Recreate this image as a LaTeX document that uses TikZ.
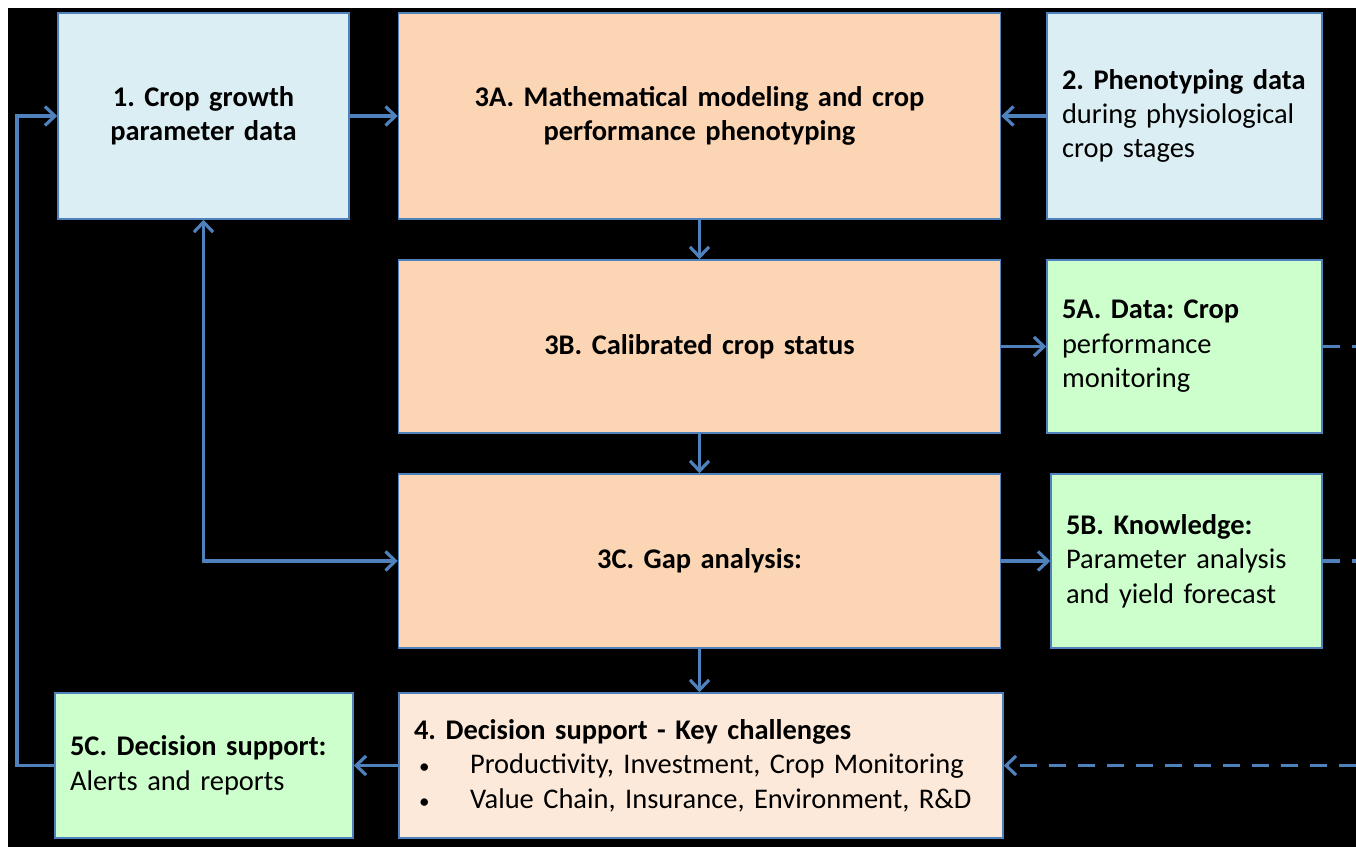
\documentclass[tikz,border=0pt]{standalone}
\usepackage{fontspec}
\setmainfont{Carlito}
\frenchspacing
\usetikzlibrary{arrows.meta, positioning, calc}
\definecolor{lineblue}{RGB}{79,129,189}
\definecolor{skyfill}{RGB}{219,238,244}
\definecolor{peach}{RGB}{252,213,180}
\definecolor{mint}{RGB}{204,255,204}
\definecolor{cream}{RGB}{253,233,217}
\newcommand{\dotitem}{\makebox[1.12cm][l]{\hspace{0.1cm}{\fontsize{12}{12}\selectfont\textbullet}}}
\tikzset{
  box/.style={rectangle, draw=lineblue, line width=0.9pt, inner xsep=0.3cm,
              align=center, text=black, font=\fontsize{16.2}{19.6}\selectfont},
  leftbox/.style={box, align=left},
  arrow/.style={-{Straight Barb[length=0.2cm, width=0.38cm]}, line width=1.8pt, color=lineblue},
  twoway/.style={arrow, {Straight Barb[length=0.2cm, width=0.38cm]}-{Straight Barb[length=0.2cm, width=0.38cm]}},
  dashline/.style={line width=1.8pt, color=lineblue, dash pattern=on 0.34cm off 0.24cm},
  dasharrow/.style={arrow, dash pattern=on 0.34cm off 0.24cm},
}

\begin{document}
\begin{tikzpicture}[x=0.02cm, y=-0.02cm]
        % Frame
        \useasboundingbox (0,0) rectangle (1356,847);
        \fill[white] (0,0) rectangle (1356,847);
        \fill[black] (8,8) rectangle (1356,847);

        % Top row
        \node[box, fill=skyfill, minimum width=5.82cm, minimum height=4.12cm, text width=5.22cm]
              (crop) at (203.5,116) {\bfseries 1. Crop growth\\parameter data};
        \node[box, fill=peach, minimum width=12.04cm, minimum height=4.12cm, text width=11.44cm]
              (model) at (699.5,116) {\bfseries 3A. Mathematical modeling and crop\\performance phenotyping};
        \node[leftbox, fill=skyfill, minimum width=5.5cm, minimum height=4.12cm, text width=4.9cm]
              (pheno) at (1184.5,116) {\textbf{2. Phenotyping data}\\during physiological\\crop stages};

        % Middle rows
        \node[box, fill=peach, minimum width=12.04cm, minimum height=3.46cm, text width=11.44cm]
              (status) at (699.5,346.5) {\bfseries 3B. Calibrated crop status};
        \node[leftbox, fill=mint, minimum width=5.5cm, minimum height=3.46cm, text width=4.9cm]
              (monitor) at (1184.5,346.5) {\textbf{5A. Data: Crop}\\performance\\monitoring};
        \node[box, fill=peach, minimum width=12.04cm, minimum height=3.48cm, text width=11.44cm]
              (gap) at (699.5,561) {\bfseries 3C. Gap analysis:};
        \node[leftbox, fill=mint, minimum width=5.42cm, minimum height=3.48cm, text width=4.82cm]
              (know) at (1186.5,561) {\textbf{5B. Knowledge:}\\Parameter analysis\\and yield forecast};

        % Bottom row
        \node[leftbox, fill=mint, minimum width=5.96cm, minimum height=2.9cm, text width=5.36cm]
              (alert) at (204,765.5) {\textbf{5C. Decision support:}\\Alerts and reports};
        \node[leftbox, fill=cream, minimum width=12.08cm, minimum height=2.9cm, text width=11.48cm]
              (decide) at (701,765.5) {\textbf{4. Decision support - Key challenges}\\
              \dotitem Productivity, Investment, Crop Monitoring\\
              \dotitem Value Chain, Insurance, Environment, R\&D};

        % Main flow
        \draw[arrow] (crop) -- (model);
        \draw[arrow] (pheno) -- (model);
        \draw[arrow] (model) -- (status);
        \draw[arrow] (status) -- (gap);
        \draw[arrow] (gap.south) -- (gap.south |- decide.north);
        \draw[arrow] (status) -- (monitor);
        \draw[arrow] (gap) -- (know);
        \draw[arrow] (decide) -- (alert);

        % Feedback paths
        \draw[twoway] (crop.south) |- (gap.west);
        \coordinate (loop) at (17,116);
        \draw[arrow] (alert.west) -| (loop) -- (crop.west);

        % Dashed returns off the right edge
        \coordinate (rim) at (1356,0);
        \draw[dashline] (monitor.east) -- (monitor.east -| rim);
        \draw[dashline] (know.east) -- (know.east -| rim);
        \draw[dasharrow] (decide.east -| rim) -- (decide.east);
\end{tikzpicture}
\end{document}
